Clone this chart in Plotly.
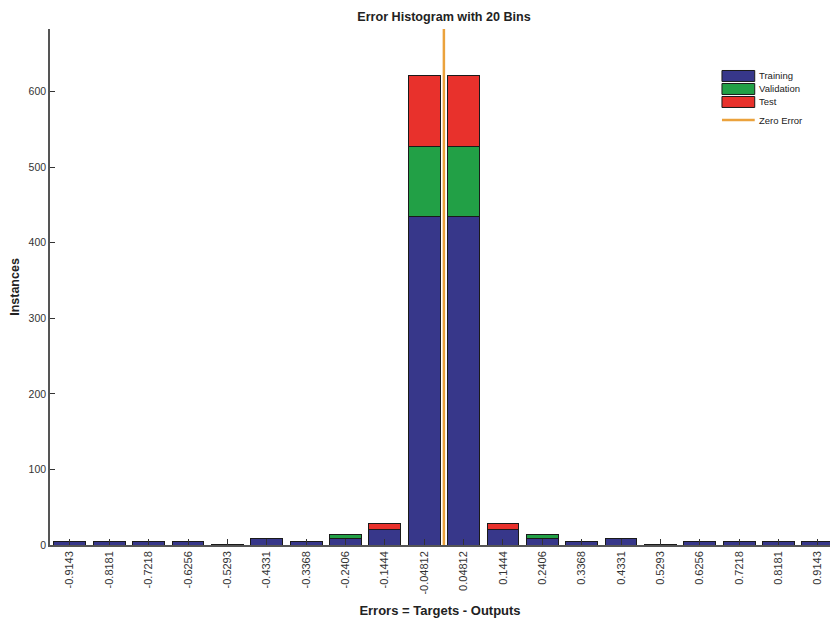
import plotly.graph_objects as go

# Bin centres of the 20-bin error histogram and their labels
bin_centers = [-0.9143, -0.8181, -0.7218, -0.6256, -0.5293, -0.4331, -0.3368, -0.2406, -0.1444, -0.04812,
               0.04812, 0.1444, 0.2406, 0.3368, 0.4331, 0.5293, 0.6256, 0.7218, 0.8181, 0.9143]
tick_labels = ["-0.9143", "-0.8181", "-0.7218", "-0.6256", "-0.5293", "-0.4331", "-0.3368", "-0.2406",
               "-0.1444", "-0.04812", "0.04812", "0.1444", "0.2406", "0.3368", "0.4331", "0.5293",
               "0.6256", "0.7218", "0.8181", "0.9143"]

# Instances per bin for each data split
training = [5, 5, 4, 4, 1, 8, 5, 9, 20, 435, 435, 20, 9, 5, 8, 1, 4, 4, 5, 5]
validation = [0, 0, 0, 0, 0, 0, 0, 5, 1, 93, 93, 1, 5, 0, 0, 0, 0, 0, 0, 0]
test = [0, 0, 0, 0, 0, 0, 0, 0, 8, 94, 94, 8, 0, 0, 0, 0, 0, 0, 0, 0]

series_names = ["Training", "Validation", "Test"]
series_colors = ["#37378a", "#22a046", "#e8312c"]
zero_color = "#eba23c"

y_top = 683
bar_width = 0.078
font = "Liberation Sans, Arial, sans-serif"

fig = go.Figure()
for name, vals, color in zip(series_names, [training, validation, test], series_colors):
    fig.add_trace(go.Bar(
        x=bin_centers, y=vals, name=name, width=bar_width,
        marker=dict(color=color, line=dict(color="#1a1a1a", width=1)),
    ))

fig.add_trace(go.Scatter(
    x=[0, 0], y=[0, y_top], mode="lines", name="Zero Error",
    line=dict(color=zero_color, width=2.5),
))

# Compact MATLAB-style legend: wide swatches with tight row spacing
shapes, annotations = [], []
lx0, lx1 = 0.8615, 0.9035          # swatch left/right (paper)
row_tops = [0.9196, 0.8944, 0.8692]  # swatch tops (paper)
row_h = 0.0213
for name, color, top in zip(series_names, series_colors, row_tops):
    shapes.append(dict(type="rect", xref="paper", yref="paper",
                       x0=lx0, x1=lx1, y0=top - row_h, y1=top,
                       fillcolor=color, line=dict(color="#1a1a1a", width=1)))
    annotations.append(dict(xref="paper", yref="paper", x=lx1 + 0.003, y=top - row_h / 2,
                            text=name, showarrow=False, xanchor="left", yanchor="middle",
                            font=dict(size=9.5, color="#222222")))
zy = 0.8236
shapes.append(dict(type="line", xref="paper", yref="paper", x0=lx0, x1=lx1, y0=zy, y1=zy,
                   line=dict(color=zero_color, width=2.5)))
annotations.append(dict(xref="paper", yref="paper", x=lx1 + 0.003, y=zy,
                        text="Zero Error", showarrow=False, xanchor="left", yanchor="middle",
                        font=dict(size=9.5, color="#222222")))

fig.update_layout(
    width=830, height=620,
    margin=dict(l=50, r=0, t=29, b=75),
    barmode="stack",
    plot_bgcolor="white", paper_bgcolor="white",
    font=dict(family=font, size=10, color="#333333"),
    title=dict(text="<b>Error Histogram with 20 Bins</b>", x=0.535, xanchor="center",
               y=0.973, yanchor="middle", font=dict(size=12.6, color="#222222")),
    showlegend=False,
    shapes=shapes,
    annotations=annotations,
)

fig.update_xaxes(
    range=[-0.963, 0.944],
    tickmode="array", tickvals=bin_centers, ticktext=tick_labels,
    tickangle=-90, ticks="inside", ticklen=6, tickcolor="#333333",
    showgrid=False, zeroline=False,
    showline=True, linecolor="#555555", linewidth=1.5,
    tickfont=dict(size=11, color="#333333"),
    title=dict(text="<b>Errors = Targets - Outputs</b>", font=dict(size=13, color="#222222"),
               standoff=12),
)
fig.update_yaxes(
    range=[0, y_top],
    tickmode="array", tickvals=[0, 100, 200, 300, 400, 500, 600],
    ticks="inside", ticklen=5, tickcolor="#333333",
    showgrid=False, zeroline=False,
    showline=True, linecolor="#555555", linewidth=1.5,
    tickfont=dict(size=10.5, color="#333333"),
    title=dict(text="<b>Instances</b>", font=dict(size=12.5, color="#222222"), standoff=6),
)

fig.write_html("out.html")
